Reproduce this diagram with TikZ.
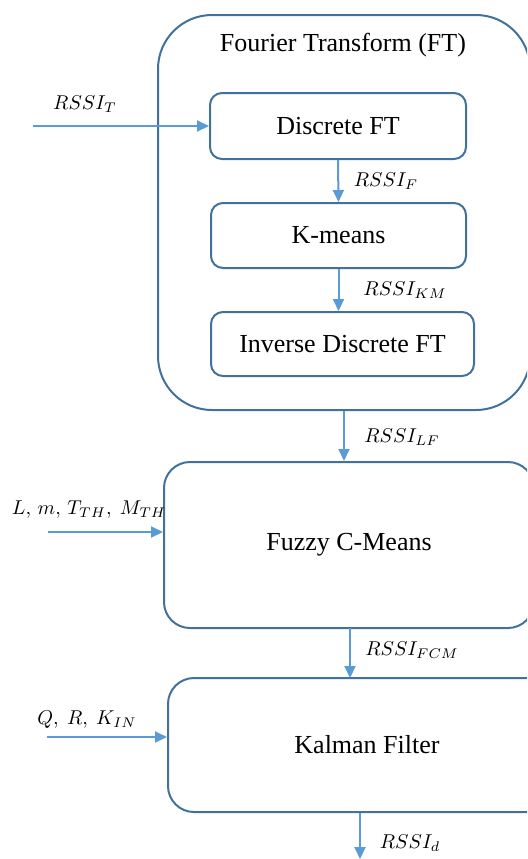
\documentclass[tikz,border=0pt]{standalone}
\usepackage{fontspec}
\setmainfont{Liberation Serif}
\usetikzlibrary{arrows.meta,positioning}
\definecolor{boxblue}{RGB}{65,113,156}
\definecolor{arrowblue}{RGB}{91,155,213}

\begin{document}
\begin{tikzpicture}[x=0.5pt,y=-0.5pt,>={Triangle[length=6pt,width=5.5pt]}, line join = round,
		blockbox/.style={draw=boxblue,line width=1pt,rounded corners=6pt,font=\fontsize{13}{15}\selectfont},
		flow/.style={->,draw=arrowblue,line width=1pt},
		sig/.style={font=\fontsize{10}{12}\selectfont,inner sep=1pt}]
		\useasboundingbox (0,0) rectangle (527,859);
		\clip (0,0) rectangle (527,859);
		% Fourier transform block
		\node[blockbox,rounded corners=27pt,minimum width=186pt,minimum height=197.5pt] (ft) at (344,212.5) {};
		\node[font=\fontsize{13}{15}\selectfont] (fttitle) at (343,45) {Fourier Transform (FT)};
		\node[blockbox,minimum width=128pt,minimum height=33pt] (dft) at (338,126) {Discrete FT};
		\node[blockbox,minimum width=127.5pt,minimum height=32.5pt] (km) at (338.5,235.5) {K-means};
		\node[blockbox,minimum width=131.5pt,minimum height=32pt] (idft) at (342.5,344) {Inverse Discrete FT};
		% clustering and filtering
		\node[blockbox,rounded corners=13pt,minimum width=185pt,minimum height=83pt] (fcm) at (349,545) {\raisebox{-3pt}{Fuzzy C-Means}};
		\node[blockbox,rounded corners=13pt,minimum width=199pt,minimum height=67pt] (kf) at (367,745) {Kalman Filter};
		% inputs and output
		\coordinate (inT) at (33,126);
		\coordinate (inF) at (48,532);
		\coordinate (inK) at (47,737);
		\coordinate (out) at (360,859);
		\draw[flow] (inT) -- (dft.west);
		\draw[flow] (inF) -- (inF -| fcm.west);
		\draw[flow] (inK) -- (inK -| kf.west);
		\draw[flow] (dft.south) -- (km.north);
		\draw[flow] (km.south) -- (km.south |- idft.north);
		\draw[flow] (ft.south) -- (ft.south |- fcm.north);
		\draw[flow] (350,628) -- (350,678);
		\draw[flow] (kf.south -| out) -- (out);
		% signal labels
		\node[sig] (lT) at (85,104) {$RSSI_{T}$};
		\node[sig] (lF) at (386,181) {$RSSI_{F}$};
		\node[sig] (lKM) at (405,290) {$RSSI_{KM}$};
		\node[sig] (lLF) at (402,437) {$RSSI_{LF}$};
		\node[sig] (lFCM) at (412,650) {$RSSI_{FCM}$};
		\node[sig] (ld) at (410,843) {$RSSI_{d}$};
		\node[sig] (lin1) at (89,510) {$L,\,m,\,T_{TH},\ M_{TH}$};
		\node[sig] (lin2) at (87,720) {$Q,\ R,\ K_{IN}$};
\end{tikzpicture}
\end{document}
